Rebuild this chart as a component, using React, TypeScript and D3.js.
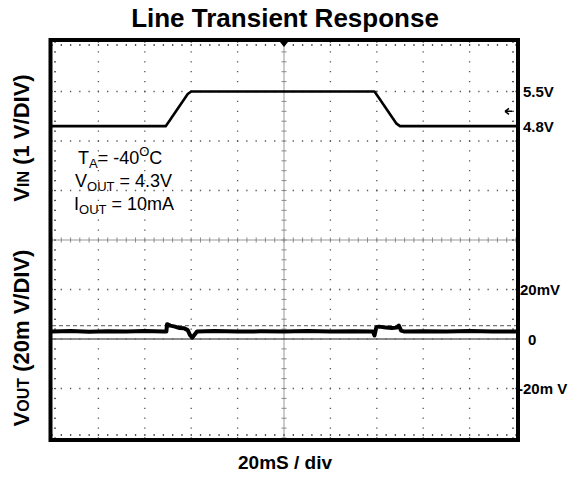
import * as d3 from 'd3';
import { useEffect, useRef } from 'react';

// time axis: 10 div x 20 ms
const timeDomain = [0, 200];
const majorDivsX = 10;
const majorDivsY = 8;

// V_IN trace (ms, V)
const vinT = [0, 49, 50.5, 58.5, 60, 139, 140.5, 148.5, 150, 200];
const vinV = [4.8, 4.8, 4.9, 5.45, 5.5, 5.5, 5.4, 4.85, 4.8, 4.8];

// V_OUT trace (ms, mV)
const voutT = [0, 8, 16, 24, 32, 40, 48, 49.3, 49.6, 51, 53, 55, 57, 58.5, 59.5, 60.5, 61.5, 62.5, 70, 80, 90, 100, 110, 120, 130, 138.3, 139, 139.8, 141, 144, 146.5, 148.5, 149.5, 150.5, 152, 160, 170, 180, 190, 200];
const voutMv = [3, 3.2, 2.9, 3.1, 3, 3.2, 3, 3, 6, 5.4, 5, 4.4, 4.3, 3.6, 1.6, 0.6, 1.8, 3, 3.2, 3, 3.1, 3, 3.2, 3, 3.1, 3, 1.4, 4.8, 5, 4.6, 4.4, 4.6, 5.4, 3.4, 3, 3.1, 3, 3.2, 3, 3];

const refDashedMv = 5.4;
const trigLevelV = 5.1;

// axis labels on the right
const vinLabels = [{ v: 5.5, text: '5.5V' }, { v: 4.8, text: '4.8V' }];
const voutLabels = [{ v: 20, text: '20mV' }, { v: 0, text: '0' }, { v: -20, text: '-20m V' }];

export default function App() {
  const svgRef = useRef<SVGSVGElement>(null);
  const width = 579;
  const height = 477;

  useEffect(() => {
    if (!svgRef.current) return;
    const svg = d3.select(svgRef.current);
    svg.selectAll('*').remove();

    const x0 = 52, x1 = 516, y0 = 42, y1 = 438;
    const font = 'Arial, "Liberation Sans", sans-serif';

    const x = d3.scaleLinear().domain(timeDomain).range([x0, x1]);
    const yVin = d3.scaleLinear().domain([-1.5, 6.5]).range([y1, y0]);
    const yVout = d3.scaleLinear().domain([-40, 120]).range([y1, y0]);
    const yDiv = d3.scaleLinear().domain([0, majorDivsY]).range([y0, y1]);
    const xDiv = d3.scaleLinear().domain([0, majorDivsX]).range([x0, x1]);

    const minorX = (x1 - x0) / (majorDivsX * 5);
    const minorY = (y1 - y0) / (majorDivsY * 5);
    const cx = xDiv(5);
    const cy = yDiv(4);

    svg.append('rect').attr('width', width).attr('height', height).attr('fill', '#fff');

    const g = svg.append('g');

    // dotted graticule
    g.selectAll('.vgrid')
      .data(d3.range(1, majorDivsX).filter(i => i !== 5))
      .join('line')
      .attr('x1', d => xDiv(d)).attr('x2', d => xDiv(d))
      .attr('y1', y0).attr('y2', y1)
      .attr('stroke', '#555').attr('stroke-width', 1.3)
      .attr('stroke-dasharray', `1.3 ${minorY - 1.3}`)
      .attr('stroke-dashoffset', 0.65 - minorY);

    g.selectAll('.hgrid')
      .data(d3.range(1, majorDivsY).filter(i => i !== 4))
      .join('line')
      .attr('x1', x0).attr('x2', x1)
      .attr('y1', d => yDiv(d)).attr('y2', d => yDiv(d))
      .attr('stroke', '#555').attr('stroke-width', 1.3)
      .attr('stroke-dasharray', `1.3 ${minorX - 1.3}`)
      .attr('stroke-dashoffset', 0.65 - minorX);

    // center lines with minor ticks
    g.append('line').attr('x1', x0).attr('x2', x1).attr('y1', cy).attr('y2', cy)
      .attr('stroke', '#999').attr('stroke-width', 1);
    g.append('line').attr('x1', cx).attr('x2', cx).attr('y1', y0).attr('y2', y1)
      .attr('stroke', '#999').attr('stroke-width', 1);

    const tickX = d3.range(0, majorDivsX * 5 + 1).map(i => x0 + i * minorX);
    const tickY = d3.range(0, majorDivsY * 5 + 1).map(i => y0 + i * minorY);

    g.selectAll('.ctx').data(tickX).join('line')
      .attr('x1', d => d).attr('x2', d => d)
      .attr('y1', cy - 2.5).attr('y2', cy + 2.5)
      .attr('stroke', '#888').attr('stroke-width', 1);
    g.selectAll('.cty').data(tickY).join('line')
      .attr('x1', cx - 2.5).attr('x2', cx + 2.5)
      .attr('y1', d => d).attr('y2', d => d)
      .attr('stroke', '#888').attr('stroke-width', 1);

    // edge ticks
    g.selectAll('.etop').data(tickX).join('rect')
      .attr('x', d => d - 0.6).attr('y', y0 + 2).attr('width', 1.3).attr('height', 2).attr('fill', '#555');
    g.selectAll('.ebot').data(tickX).join('rect')
      .attr('x', d => d - 0.6).attr('y', y1 - 4).attr('width', 1.3).attr('height', 2).attr('fill', '#555');
    g.selectAll('.eleft').data(tickY).join('rect')
      .attr('x', x0 + 2).attr('y', d => d - 0.6).attr('width', 2).attr('height', 1.3).attr('fill', '#555');
    g.selectAll('.eright').data(tickY).join('rect')
      .attr('x', x1 - 4).attr('y', d => d - 0.6).attr('width', 2).attr('height', 1.3).attr('fill', '#555');

    // V_OUT reference lines
    g.append('line')
      .attr('x1', x0).attr('x2', x1)
      .attr('y1', yVout(refDashedMv)).attr('y2', yVout(refDashedMv))
      .attr('stroke', '#777').attr('stroke-width', 1.2)
      .attr('stroke-dasharray', '4 3');
    g.append('line')
      .attr('x1', x0).attr('x2', x1)
      .attr('y1', yVout(0)).attr('y2', yVout(0))
      .attr('stroke', '#666').attr('stroke-width', 1.5);

    // traces
    const vinLine = d3.line<number>().x(d => x(vinT[d])).y(d => yVin(vinV[d]));
    g.append('path')
      .attr('d', vinLine(d3.range(vinT.length)))
      .attr('fill', 'none').attr('stroke', '#000').attr('stroke-width', 2.6)
      .attr('stroke-linejoin', 'round');

    const voutLine = d3.line<number>().x(d => x(voutT[d])).y(d => yVout(voutMv[d]));
    g.append('path')
      .attr('d', voutLine(d3.range(voutT.length)))
      .attr('fill', 'none').attr('stroke', '#000').attr('stroke-width', 4)
      .attr('stroke-linejoin', 'round');

    // frame
    svg.append('rect')
      .attr('x', x0 - 1.5).attr('y', y0 - 2).attr('width', x1 - x0 + 3.5).attr('height', y1 - y0 + 4)
      .attr('fill', 'none').attr('stroke', '#000').attr('stroke-width', 4);

    // trigger markers
    svg.append('path')
      .attr('d', `M${cx - 4},${y0} L${cx + 4},${y0} L${cx},${y0 + 5} Z`)
      .attr('fill', '#000');
    const ty = yVin(trigLevelV);
    svg.append('path')
      .attr('d', `M${x1 - 4},${ty} L${x1 - 11},${ty} M${x1 - 11},${ty} L${x1 - 7},${ty - 3} M${x1 - 11},${ty} L${x1 - 7},${ty + 3}`)
      .attr('stroke', '#000').attr('stroke-width', 1.5).attr('fill', 'none');

    // right-side labels
    svg.selectAll('.vinlab').data(vinLabels).join('text')
      .attr('x', 523).attr('y', d => yVin(d.v) + 5.5)
      .style('font', `bold 15px ${font}`)
      .text(d => d.text);
    svg.selectAll('.voutlab').data(voutLabels).join('text')
      .attr('x', d => (d.v === 0 ? 528 : d.v < 0 ? 518 : 520))
      .attr('y', d => yVout(d.v) + 5.5)
      .style('font', `bold 15px ${font}`)
      .text(d => d.text);

    // title & x label
    svg.append('text')
      .attr('x', 285).attr('y', 27).attr('text-anchor', 'middle')
      .style('font', `bold 26px ${font}`)
      .text('Line Transient Response');
    svg.append('text')
      .attr('x', 285).attr('y', 469).attr('text-anchor', 'middle')
      .style('font', `bold 19px ${font}`)
      .text('20mS / div');

    // y labels
    const vinLab = svg.append('text')
      .attr('transform', 'translate(29,138) rotate(-90)')
      .attr('text-anchor', 'middle')
      .style('font', `bold 22px ${font}`);
    vinLab.append('tspan').text('V');
    vinLab.append('tspan').attr('font-size', 16).text('IN');
    vinLab.append('tspan').text('  (1 V/DIV)');

    const voutLab = svg.append('text')
      .attr('transform', 'translate(29,338) rotate(-90)')
      .attr('text-anchor', 'middle')
      .style('font', `bold 22px ${font}`);
    voutLab.append('tspan').text('V');
    voutLab.append('tspan').attr('font-size', 16).text('OUT');
    voutLab.append('tspan').text(' (20m V/DIV)');

    // condition annotation
    const ann = svg.append('g').style('font', `18px ${font}`);
    const t1 = ann.append('text').attr('x', 78).attr('y', 164);
    t1.append('tspan').text('T');
    t1.append('tspan').attr('font-size', 13).attr('dy', 4).text('A');
    t1.append('tspan').attr('dy', -4).text('=  -40');
    t1.append('tspan').attr('font-size', 13).attr('dy', -8).text('O');
    t1.append('tspan').attr('dy', 8).text('C');
    const t2 = ann.append('text').attr('x', 75).attr('y', 187);
    t2.append('tspan').text('V');
    t2.append('tspan').attr('font-size', 13).attr('dy', 4).text('OUT');
    t2.append('tspan').attr('dy', -4).text(' = 4.3V');
    const t3 = ann.append('text').attr('x', 74).attr('y', 210);
    t3.append('tspan').text('I');
    t3.append('tspan').attr('font-size', 13).attr('dy', 4).text('OUT');
    t3.append('tspan').attr('dy', -4).text(' = 10mA');
  }, []);

  return (
    <div style={{ width, height }}>
      <svg ref={svgRef} width={width} height={height} style={{ display: 'block', margin: -8 }} />
    </div>
  );
}
